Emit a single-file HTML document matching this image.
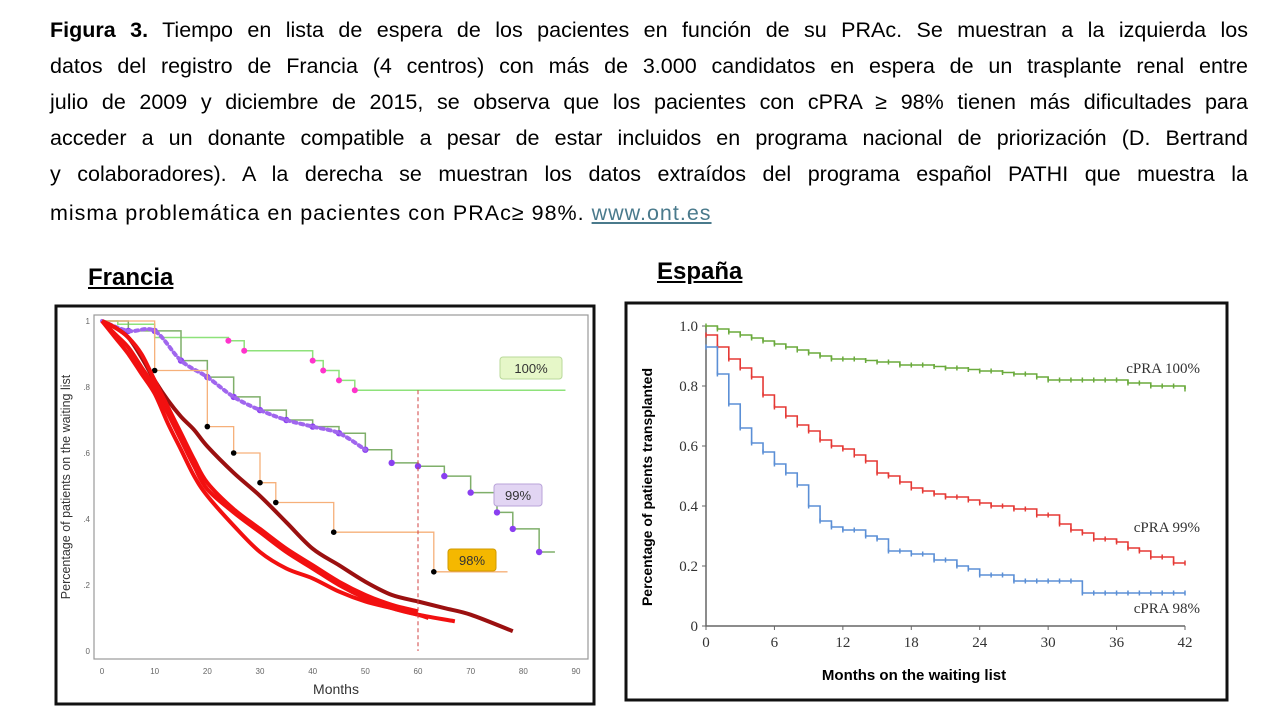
<!DOCTYPE html>
<html><head><meta charset="utf-8">
<style>
body{margin:0;width:1280px;height:720px;background:#fff;position:relative;overflow:hidden;font-family:"Liberation Sans",sans-serif}
.cap{position:absolute;left:50px;width:1198px;font-size:21.5px;color:#000;line-height:24px;white-space:nowrap}
.j{text-align:justify;text-align-last:justify}
a{color:#4a7a8c;text-decoration:underline}
.ttl{position:absolute;font-weight:bold;font-size:24px;text-decoration:underline}
svg{position:absolute;left:0;top:0}
</style></head><body>
<div class="cap j" style="top:18px"><b>Figura 3.</b> Tiempo en lista de espera de los pacientes en función de su PRAc. Se muestran a la izquierda los</div>
<div class="cap j" style="top:54px">datos del registro de Francia (4 centros) con más de 3.000 candidatos en espera de un trasplante renal entre</div>
<div class="cap j" style="top:90px">julio de 2009 y diciembre de 2015, se observa que los pacientes con cPRA ≥ 98% tienen más dificultades para</div>
<div class="cap j" style="top:126px">acceder a un donante compatible a pesar de estar incluidos en programa nacional de priorización (D. Bertrand</div>
<div class="cap j" style="top:162px">y colaboradores). A la derecha se muestran los datos extraídos del programa español PATHI que muestra la</div>
<div class="cap" style="top:201px;letter-spacing:1px">misma problemática en pacientes con PRAc≥ 98%. <a>www.ont.es</a></div>
<div class="ttl" style="left:88px;top:264px">Francia</div>
<div class="ttl" style="left:657px;top:258px">España</div>
<svg id="s" width="1280" height="720"></svg>
<script>
// ---- España data (months 0..42) ----
const esMonths=[0,1,2,3,4,5,6,7,8,9,10,11,12,13,14,15,16,17,18,19,20,21,22,23,24,25,26,27,28,29,30,31,32,33,34,35,36,37,38,39,40,41,42];
const es100=[1,.99,.98,.97,.96,.95,.94,.93,.92,.91,.90,.89,.89,.89,.885,.88,.88,.87,.87,.87,.865,.86,.86,.855,.85,.85,.845,.84,.84,.83,.82,.82,.82,.82,.82,.82,.82,.81,.81,.80,.80,.80,.79];
const es99=[.97,.93,.89,.86,.83,.77,.73,.70,.67,.65,.62,.60,.59,.57,.55,.51,.50,.48,.46,.45,.44,.43,.43,.42,.41,.40,.40,.39,.39,.37,.37,.34,.32,.31,.29,.29,.28,.26,.25,.23,.23,.21,.21];
const es98=[.93,.84,.74,.66,.61,.58,.54,.51,.47,.40,.35,.33,.32,.32,.30,.29,.25,.25,.24,.24,.22,.22,.20,.19,.17,.17,.17,.15,.15,.15,.15,.15,.15,.11,.11,.11,.11,.11,.11,.11,.11,.11,.11];
const esYTicks=["0","0.2","0.4","0.6","0.8","1.0"];
const esXTicks=[0,6,12,18,24,30,36,42];
// ---- Francia data ----
const frM1=[0,2.5,5,7.5,10,12.5,15,17.5,20,25,30,35,40,45,50,55,60,62];
const frRed1=[1,.95,.9,.84,.78,.69,.61,.53,.47,.38,.30,.25,.22,.18,.15,.13,.11,.10];
const frM2=[0,2.5,5,7.5,10,12.5,15,17.5,20,25,30,35,40,45,50,55,60,67];
const frRed2=[1,.96,.92,.86,.80,.72,.64,.56,.49,.42,.36,.30,.25,.20,.16,.13,.11,.09];
const frM3=[0,2.5,5,7.5,10,12.5,15,17.5,20,25,30,35,40,45,50,55,60];
const frRed3=[1,.98,.95,.90,.82,.74,.66,.58,.51,.43,.37,.31,.26,.21,.17,.14,.12];
const frM4=[0,2.5,5,7.5,10,12.5,15,17.5,20,25,30,35,40,45,50,55,60,65,70,78];
const frDark=[1,.98,.95,.89,.82,.76,.71,.67,.62,.54,.47,.39,.31,.26,.21,.17,.15,.13,.11,.06];
const frM99=[0,5,10,15,20,25,30,35,40,45,50,55,60,65,70,75,78,83,86];
const fr99=[1,.97,.97,.88,.83,.77,.73,.7,.68,.66,.61,.57,.56,.53,.48,.42,.37,.3,.3];
const frM100=[0,3,10,24,27,40,42,45,48,88];
const fr100=[1,.99,.95,.94,.91,.88,.85,.82,.79,.79];
const frMOr=[0,10,20,25,30,33,44,63,77];
const frOr=[1,.85,.68,.6,.51,.45,.36,.24,.24];
const frYTicks=["0",".2",".4",".6",".8","1"];
const frXTicks=[0,10,20,30,40,50,60,70,80,90];

const s=document.getElementById('s');const NS='http://www.w3.org/2000/svg';
function el(t,a,txt){const e=document.createElementNS(NS,t);for(const k in a)e.setAttribute(k,a[k]);if(txt!==undefined)e.textContent=txt;s.appendChild(e);return e;}
function stepPath(xs,ys,X,Y){let d='M'+X(xs[0])+','+Y(ys[0]);for(let i=1;i<xs.length;i++){d+='H'+X(xs[i])+'V'+Y(ys[i]);}return d;}
function smoothPath(xs,ys,X,Y){const P=xs.map((x,i)=>[X(x),Y(ys[i])]);let d='M'+P[0];for(let i=0;i<P.length-1;i++){const p0=P[i-1]||P[i],p1=P[i],p2=P[i+1],p3=P[i+2]||p2;
 const c1=[p1[0]+(p2[0]-p0[0])/6,p1[1]+(p2[1]-p0[1])/6],c2=[p2[0]-(p3[0]-p1[0])/6,p2[1]-(p3[1]-p1[1])/6];d+='C'+c1+' '+c2+' '+p2;}return d;}

// ===== España =====
const eX=m=>706+m*(1185-706)/42, eY=v=>626-v*300;
let b=el('rect',{x:626,y:303,width:601,height:397,fill:'#fff',stroke:'#111','stroke-width':3});

let a=el('path',{d:`M${eX(0)},${eY(1)}V${eY(0)}H${eX(42)}`,stroke:'#666','stroke-width':1.5,fill:'none'});

esYTicks.forEach((t,i)=>{const y=eY(i*0.2);const e=el('text',{x:698,y:y+5,'text-anchor':'end','font-family':'Liberation Serif,serif','font-size':15,fill:'#333'},t);
el('line',{x1:eX(0)-4,x2:eX(0),y1:y,y2:y,stroke:'#666'});});
esXTicks.forEach(m=>{const x=eX(m);const e=el('text',{x:x,y:647,'text-anchor':'middle','font-family':'Liberation Serif,serif','font-size':15,fill:'#333'},m);
el('line',{x1:x,x2:x,y1:eY(0),y2:eY(0)+4,stroke:'#666'});});
[[es100,'#6aaa3c','cPRA 100%',.86],[es99,'#e53935','cPRA 99%',.33],[es98,'#5b8fd6','cPRA 98%',.06]].forEach(([v,c,l,ly])=>{
 const p=el('path',{d:stepPath(esMonths,v,eX,eY),stroke:c,'stroke-width':1.6,fill:'none'});
 
 esMonths.forEach((m,i)=>{el('line',{x1:eX(m),x2:eX(m),y1:eY(v[i])-2.5,y2:eY(v[i])+2.5,stroke:c,'stroke-width':1.5});});
 const t=el('text',{x:1200,y:eY(ly)+5,'text-anchor':'end','font-family':'Liberation Serif,serif','font-size':15,fill:'#333'},l);
 });
let t=el('text',{x:914,y:680,'text-anchor':'middle','font-weight':'bold','font-size':15},'Months on the waiting list');

t=el('text',{x:0,y:0,'text-anchor':'middle','font-weight':'bold','font-size':14,transform:'translate(652,487) rotate(-90)'},'Percentage of patients transplanted');


// ===== Francia =====
const fX=m=>102+m*(576-102)/90, fY=v=>651-v*330;
b=el('rect',{x:56,y:306,width:538,height:398,fill:'#fff',stroke:'#111','stroke-width':3});

a=el('rect',{x:94,y:315,width:494,height:344,fill:'#fff',stroke:'#999','stroke-width':1.2});

frYTicks.forEach((l,i)=>{const y=fY(i*0.2);const e=el('text',{x:90,y:y+3,'text-anchor':'end','font-size':8,fill:'#666'},l);
});
frXTicks.forEach(m=>{const e=el('text',{x:fX(m),y:674,'text-anchor':'middle','font-size':8,fill:'#666'},m);
});
t=el('text',{x:336,y:694,'text-anchor':'middle','font-size':14,fill:'#333'},'Months');

t=el('text',{x:0,y:0,'text-anchor':'middle','font-size':12.5,fill:'#333',transform:'translate(70,487) rotate(-90)'},'Percentage of patients on the waiting list');

let p=el('path',{d:stepPath(frM100,fr100,fX,fY),stroke:'#8ee27a','stroke-width':1.5,fill:'none'});

frM100.slice(3,9).forEach((m,i)=>el('circle',{cx:fX(m),cy:fY(fr100[i+3]),r:3,fill:'#ff33cc'}));
p=el('path',{d:stepPath(frM99,fr99,fX,fY),stroke:'#7faf6a','stroke-width':1.5,fill:'none'});

frM99.forEach((m,i)=>{if(i>0&&i<18)el('circle',{cx:fX(m),cy:fY(fr99[i]),r:3.2,fill:'#8a3ff0'});});
p=el('path',{d:smoothPath(frM99.slice(0,11),fr99.slice(0,11),fX,fY),stroke:'#a066ee','stroke-width':4,fill:'none','stroke-dasharray':'3 4','stroke-linecap':'round'});

p=el('path',{d:stepPath(frMOr,frOr,fX,fY),stroke:'#f6b07a','stroke-width':1.3,fill:'none'});

frMOr.forEach((m,i)=>{if(i>0&&i<8)el('circle',{cx:fX(m),cy:fY(frOr[i]),r:2.8,fill:'#000'});});
p=el('path',{d:smoothPath(frM4,frDark,fX,fY),stroke:'#9b1010','stroke-width':4,fill:'none'});

[[frM1,frRed1],[frM2,frRed2],[frM3,frRed3]].forEach(([m,v])=>{p=el('path',{d:smoothPath(m,v,fX,fY),stroke:'#f21010','stroke-width':4,fill:'none','stroke-linejoin':'round'});
});
p=el('line',{x1:fX(60),x2:fX(60),y1:fY(.79),y2:fY(0),stroke:'#d04040','stroke-dasharray':'4 3','stroke-width':1});

[[500,357,'#e6f7c8','#b9d99a','100%'],[494,484,'#e2d5f3','#b9a3d9','99%'],[448,549,'#f5b800','#d09a00','98%']].forEach(([x,y,f,st,l])=>{
 const w=l==='100%'?62:48;const r=el('rect',{x:x,y:y,width:w,height:22,rx:3,fill:f,stroke:st});
 
 const e=el('text',{x:x+w/2,y:y+16,'text-anchor':'middle','font-size':13,fill:'#333'},l);
 });
</script>
</body></html>
